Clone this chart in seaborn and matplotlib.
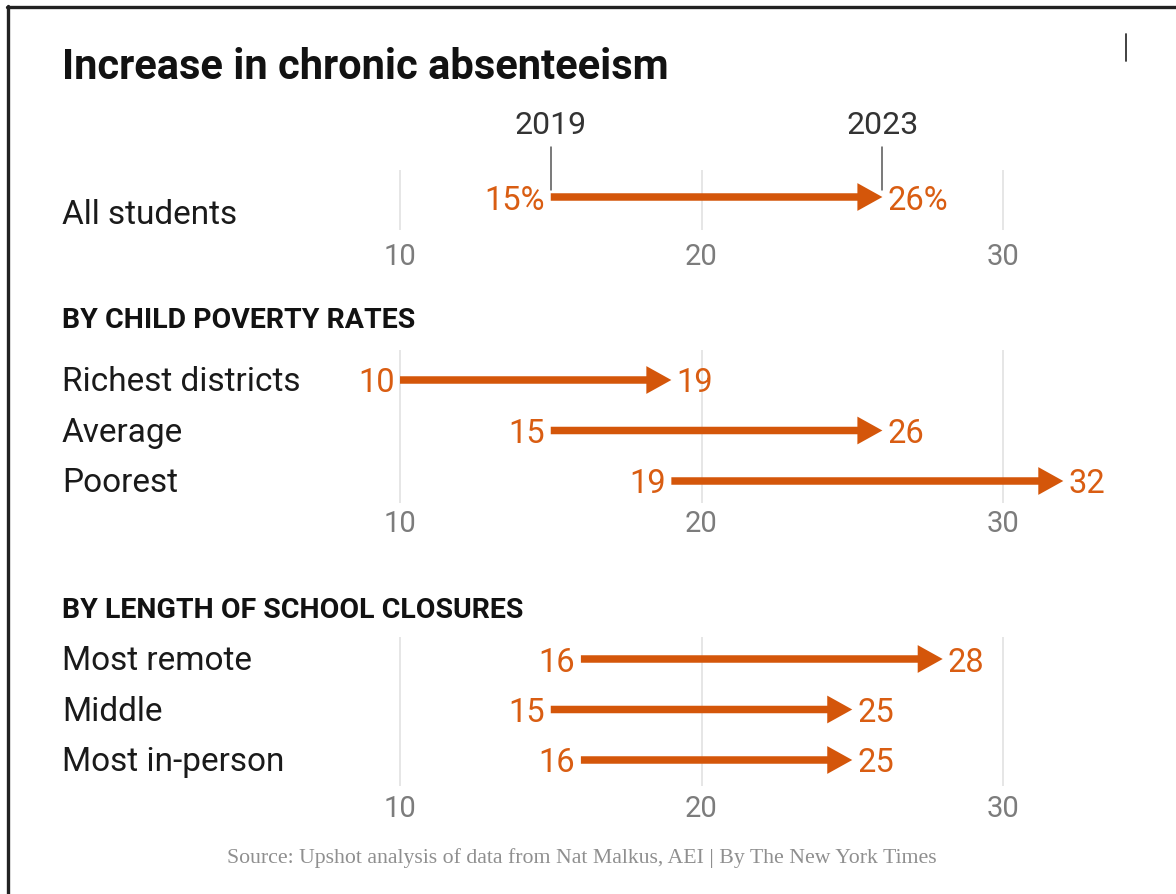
import matplotlib
matplotlib.use("Agg")
import matplotlib.pyplot as plt
import seaborn as sns
from matplotlib.patches import ArrowStyle
from matplotlib.lines import Line2D
from matplotlib.transforms import blended_transform_factory

# ---------------- data ----------------
title = "Increase in chronic absenteeism"
years = ["2019", "2023"]

overall_cats = ["All students"]
overall_2019 = [15]
overall_2023 = [26]

poverty_header = "BY CHILD POVERTY RATES"
poverty_cats = ["Richest districts", "Average", "Poorest"]
poverty_2019 = [10, 15, 19]
poverty_2023 = [19, 26, 32]

closure_header = "BY LENGTH OF SCHOOL CLOSURES"
closure_cats = ["Most remote", "Middle", "Most in-person"]
closure_2019 = [16, 15, 16]
closure_2023 = [28, 25, 25]

xticks = [10, 20, 30]
source = "Source: Upshot analysis of data from Nat Malkus, AEI | By The New York Times"

# ---------------- style ----------------
sns.set_theme(style="white")
plt.rcParams["font.family"] = ["Roboto", "DejaVu Sans"]

W, H = 1176, 894
ORANGE = "#d4560a"
ORANGE_TXT = "#d95d12"
GRID = "#e2e2e2"
TICK = "#7c7c7c"
INK = "#1a1a1a"

fig = plt.figure(figsize=(W / 100, H / 100), dpi=100)
fig.patch.set_facecolor("white")

PX_PER_UNIT = 30.15          # horizontal scale of the reference
X10_PX = 400                 # pixel position of value 10
XLIM = (10 - X10_PX / PX_PER_UNIT, 10 + (W - X10_PX) / PX_PER_UNIT)
ROW_SP = 50.5                # row spacing in pixels


def fy(px):
    return 1 - px / H


def make_panel(top_px, bottom_px, first_row_px, cats, v0, v1, pad_pt,
               label_offsets=None, pct=False):
    ax = fig.add_axes([0, fy(bottom_px), 1, (bottom_px - top_px) / H])
    ax.set_facecolor("none")
    ax.set_xlim(*XLIM)
    ax.set_ylim((bottom_px - first_row_px) / ROW_SP, (top_px - first_row_px) / ROW_SP)
    ax.set_xticks(xticks)
    ax.set_xticklabels([str(t) for t in xticks])
    ax.set_yticks([])
    ax.grid(axis="x", color=GRID, lw=1.2)
    ax.grid(axis="y", visible=False)
    ax.tick_params(axis="x", length=0, pad=pad_pt, labelsize=21, labelcolor=TICK)
    sns.despine(ax=ax, left=True, bottom=True)

    style = ArrowStyle.Simple(head_length=0.9, head_width=1.0, tail_width=0.27)
    trans_lab = blended_transform_factory(fig.transFigure, ax.transData)
    for i, (c, a, b) in enumerate(zip(cats, v0, v1)):
        ax.annotate("", xy=(b, i), xytext=(a, i),
                    arrowprops=dict(arrowstyle=style, fc=ORANGE, ec="none", lw=0,
                                    shrinkA=0, shrinkB=0, mutation_scale=20),
                    annotation_clip=False)
        suf = "%" if pct else ""
        ax.annotate(f"{a}{suf}", xy=(a, i), xytext=(-4, 0), textcoords="offset points",
                    ha="right", va="center_baseline", fontsize=23.5, color=ORANGE_TXT,
                    annotation_clip=False)
        ax.annotate(f"{b}{suf}", xy=(b, i), xytext=(3.5, 0), textcoords="offset points",
                    ha="left", va="center_baseline", fontsize=23.5, color=ORANGE_TXT,
                    annotation_clip=False)
        off = 0 if label_offsets is None else label_offsets[i]
        ax.annotate(c, xy=(62 / W, i), xycoords=trans_lab, xytext=(0, -off * 0.72 + 1),
                    textcoords="offset points", ha="left", va="center_baseline",
                    fontsize=24, color=INK, annotation_clip=False)
    return ax


# Panel 1: all students
ax1 = make_panel(170, 230, 197, overall_cats, overall_2019, overall_2023, 9.5,
                 label_offsets=[16], pct=True)
# year markers
for yr, val in zip(years, [overall_2019[0], overall_2023[0]]):
    y_top = (147 - 197) / ROW_SP
    y_bot = (190 - 197) / ROW_SP
    ax1.plot([val, val], [y_top, y_bot], color="#555555", lw=1.1, clip_on=False)
    ax1.text(val, (123 - 197) / ROW_SP, yr, ha="center", va="center_baseline",
             fontsize=23, color="#333333", clip_on=False)

# Panel 2: poverty
ax2 = make_panel(350, 503, 380, poverty_cats, poverty_2019, poverty_2023, 5.0)
# Panel 3: closures
ax3 = make_panel(637, 786, 659, closure_cats, closure_2019, closure_2023, 6.5)

# ---------------- text ----------------
fig.text(62 / W, fy(63), title, ha="left", va="center_baseline", fontsize=30,
         fontweight="bold", color="#121212")
fig.text(62 / W, fy(317), poverty_header, ha="left", va="center_baseline",
         fontsize=20.5, fontweight="bold", color="#121212")
fig.text(62 / W, fy(608), closure_header, ha="left", va="center_baseline",
         fontsize=20.5, fontweight="bold", color="#121212")
fig.text(582 / W, fy(856), source, ha="center", va="center_baseline",
         fontsize=15.7, color="#8f8f8f", family=["Liberation Serif", "DejaVu Serif"])

# ---------------- frame ----------------
fig.add_artist(Line2D([7 / W, 1], [fy(6.5), fy(6.5)], color="#222222", lw=2.4,
                      transform=fig.transFigure))
fig.add_artist(Line2D([8 / W, 8 / W], [0, fy(5.5)], color="#222222", lw=2.4,
                      transform=fig.transFigure))
fig.add_artist(Line2D([1126 / W, 1126 / W], [fy(34), fy(61)], color="#333333", lw=1.3,
                      transform=fig.transFigure))

fig.savefig("out.png", dpi=100, facecolor="white")
